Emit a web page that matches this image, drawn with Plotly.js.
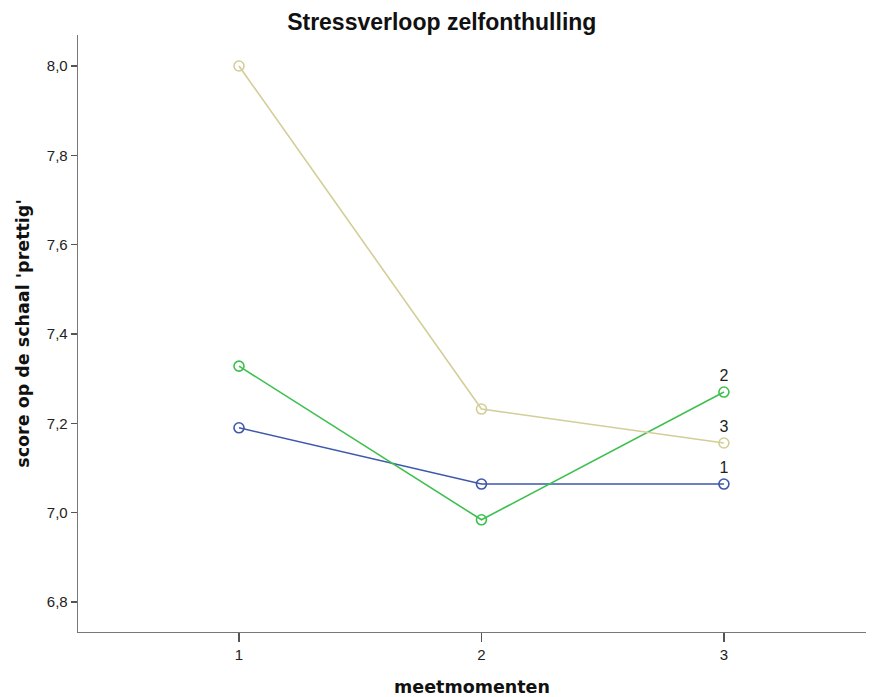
<!DOCTYPE html>
<html>
<head>
<meta charset="utf-8">
<script src="https://cdn.plot.ly/plotly-3.0.1.min.js"></script>
<style>html,body{margin:0;padding:0;background:#fff;}#chart{width:880px;height:697px;}</style>
</head>
<body>
<div id="chart"></div>
<script>
var moments = [1, 2, 3];
var groupNames = ['1', '2', '3'];
var group1 = [7.190, 7.064, 7.064];
var group2 = [7.328, 6.984, 7.270];
var group3 = [8.000, 7.232, 7.156];
var colors = ['#3E58AC', '#3EC050', '#D3CE97'];
var yTickVals = [6.8, 7.0, 7.2, 7.4, 7.6, 7.8, 8.0];
var yTickText = ['6,8', '7,0', '7,2', '7,4', '7,6', '7,8', '8,0'];
var xTickVals = [1, 2, 3];
var xTickText = ['1', '2', '3'];

var series = [group1, group2, group3];
var traces = series.map(function (vals, i) {
  return {
    x: moments,
    y: vals,
    mode: 'lines+markers+text',
    text: ['', '', groupNames[i]],
    textposition: 'top center',
    textfont: {family: 'Liberation Sans, Arial, sans-serif', size: 16, color: '#222'},
    line: {color: colors[i], width: 1.6},
    marker: {symbol: 'circle-open', size: 10, color: colors[i], line: {width: 1.6, color: colors[i]}},
    cliponaxis: false,
    showlegend: false,
    hoverinfo: 'x+y'
  };
});

var layout = {
  width: 880,
  height: 697,
  margin: {l: 78, r: 14, t: 35, b: 65},
  paper_bgcolor: '#fff',
  plot_bgcolor: '#fff',
  font: {family: 'Liberation Sans, Arial, sans-serif', color: '#222'},
  title: {
    text: 'Stressverloop zelfonthulling',
    font: {family: 'Liberation Sans, Arial, sans-serif', size: 23, color: '#111', weight: 'bold'},
    x: 0.502, xref: 'container', xanchor: 'center',
    y: 0.969, yref: 'container', yanchor: 'middle'
  },
  xaxis: {
    range: [0.336, 3.586],
    tickvals: xTickVals,
    ticktext: xTickText,
    ticks: 'outside', ticklen: 9, tickwidth: 1.3, tickcolor: '#555',
    showline: true, linecolor: '#777', linewidth: 1.3,
    showgrid: false, zeroline: false,
    tickfont: {size: 15, color: '#222'},
    title: {text: 'meetmomenten', font: {family: 'DejaVu Sans, Verdana, sans-serif', size: 17.5, color: '#111', weight: 'bold'}, standoff: 20}
  },
  yaxis: {
    range: [6.7328, 8.0694],
    tickvals: yTickVals,
    ticktext: yTickText,
    ticks: 'outside', ticklen: 6, tickwidth: 1.3, tickcolor: '#555',
    showline: true, linecolor: '#777', linewidth: 1.3,
    showgrid: false, zeroline: false,
    tickfont: {size: 15, color: '#222'},
    title: {text: "score op de schaal 'prettig'", font: {family: 'DejaVu Sans, Verdana, sans-serif', size: 17.5, color: '#111', weight: 'bold'}, standoff: 12}
  }
};

Plotly.newPlot('chart', traces, layout, {displayModeBar: false, staticPlot: true});
</script>
</body>
</html>
